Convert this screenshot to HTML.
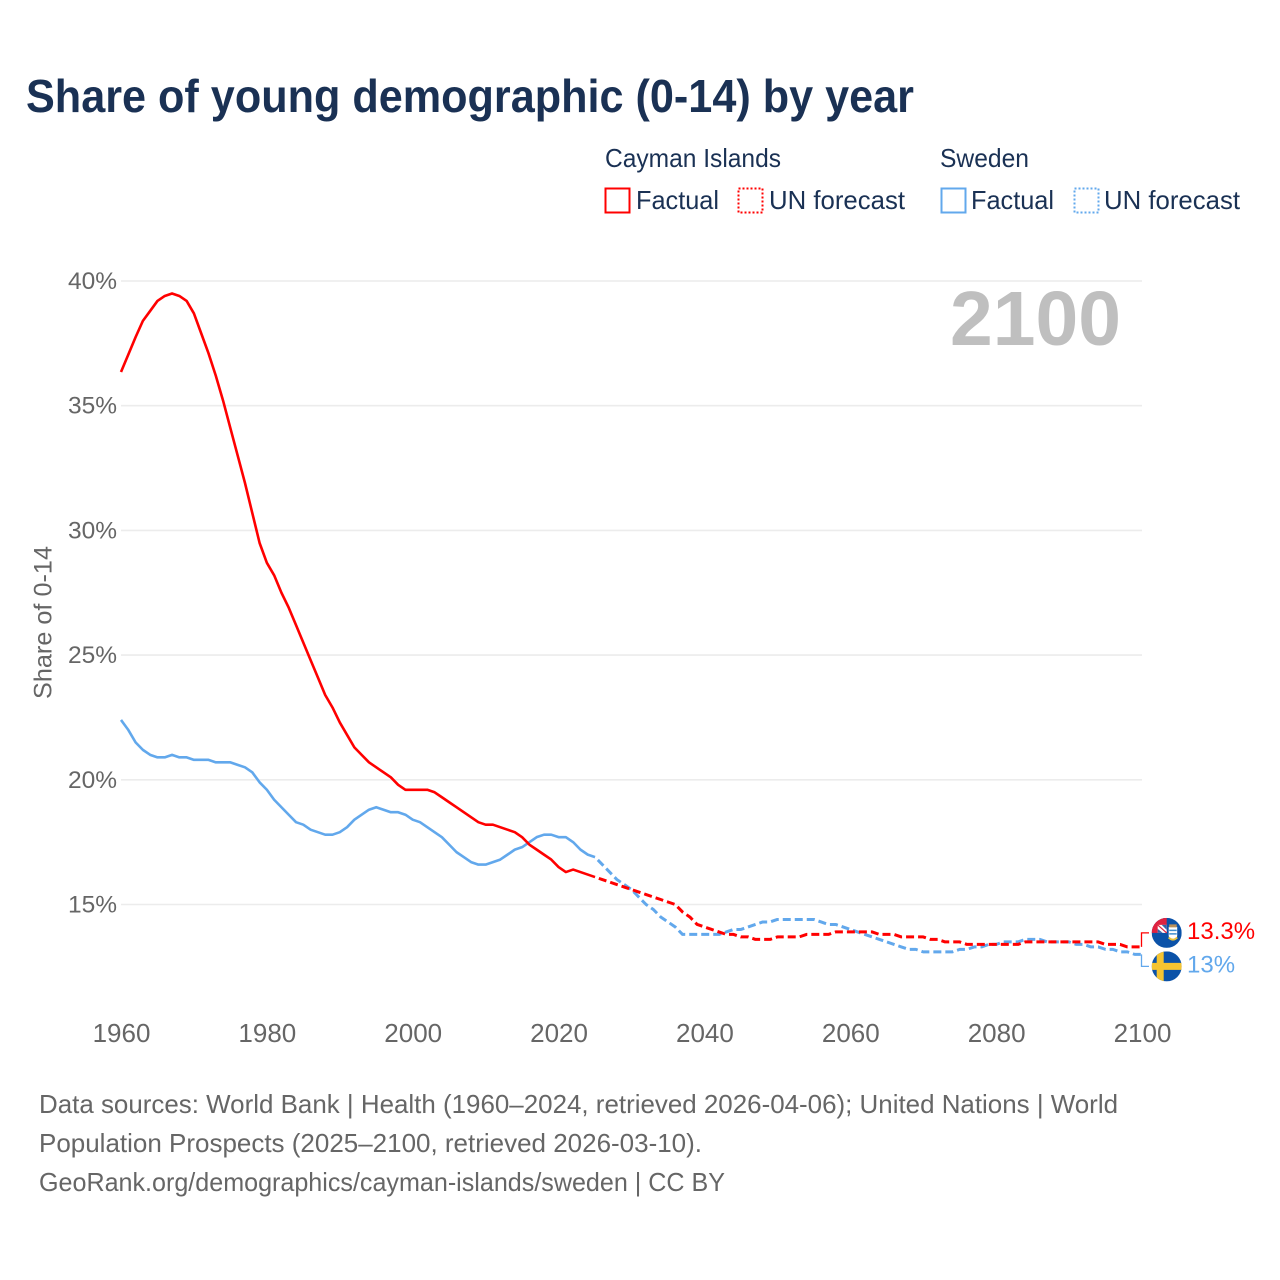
<!DOCTYPE html>
<html lang="en">
<head>
<meta charset="utf-8">
<title>Share of young demographic (0-14) by year</title>
<style>
html,body{margin:0;padding:0;background:#fff;}
svg{display:block;font-family:"Liberation Sans",sans-serif;}
</style>
</head>
<body>
<svg id="chart" xmlns="http://www.w3.org/2000/svg" width="1280" height="1280" viewBox="0 0 1280 1280">
  <rect width="1280" height="1280" fill="#ffffff"/>
  <text x="26" y="112" font-size="46" font-weight="700" fill="#1a3154" textLength="888" lengthAdjust="spacingAndGlyphs">Share of young demographic (0-14) by year</text>

  <g font-size="26" fill="#1a3154">
    <text x="605" y="167" textLength="176" lengthAdjust="spacingAndGlyphs">Cayman Islands</text>
    <rect x="605.5" y="188.5" width="24" height="24" fill="none" stroke="#ff0000" stroke-width="2"/>
    <text x="636" y="209" textLength="83" lengthAdjust="spacingAndGlyphs">Factual</text>
    <rect x="738.5" y="188.5" width="24" height="24" fill="none" stroke="#ff0000" stroke-width="2" stroke-dasharray="2,2"/>
    <text x="769" y="209" textLength="136" lengthAdjust="spacingAndGlyphs">UN forecast</text>
    <text x="940" y="167" textLength="89" lengthAdjust="spacingAndGlyphs">Sweden</text>
    <rect x="941.5" y="188.5" width="24" height="24" fill="none" stroke="#62a8ec" stroke-width="2"/>
    <text x="971" y="209" textLength="83" lengthAdjust="spacingAndGlyphs">Factual</text>
    <rect x="1074.5" y="188.5" width="24" height="24" fill="none" stroke="#62a8ec" stroke-width="2" stroke-dasharray="2,2"/>
    <text x="1104" y="209" textLength="136" lengthAdjust="spacingAndGlyphs">UN forecast</text>
  </g>

  <g id="grid"></g>
  <g id="yticks" font-size="24.5" fill="#666666" text-anchor="end"></g>
  <g id="xticks" font-size="26" fill="#666666" text-anchor="middle"></g>
  <text transform="translate(51.5,699) rotate(-90)" font-size="25" fill="#666666" textLength="153" lengthAdjust="spacingAndGlyphs">Share of 0-14</text>
  <text id="year-watermark" x="950" y="345" font-size="77" font-weight="700" fill="#bfbfbf" textLength="171" lengthAdjust="spacingAndGlyphs">2100</text>
  <g id="series"></g>

  <defs>
    <clipPath id="flag-clip"><circle cx="0" cy="0" r="15"/></clipPath>
  </defs>

  <g id="flag-cayman">
    <g clip-path="url(#flag-clip)">
      <rect x="-15" y="-15" width="30" height="30" fill="#0b52a8"/>
      <rect x="-15" y="-15" width="15" height="15" fill="#e0223f"/>
      <path d="M-9,-8 H0 V0 H-9 Z" fill="#ffffff"/>
      <path d="M-5,-8 H0 V-3 Z" fill="#3a62a8"/>
      <path d="M-9,-4 L-4,0 H-9 Z" fill="#3a62a8"/>
      <path d="M-9,-8 L0,0" stroke="#e0223f" stroke-width="1.2" fill="none"/>
      <path d="M2,-6 H10.5 V3 Q10.5,6 6.2,7 Q2,6 2,3 Z" fill="#ffffff"/>
      <path d="M2.5,-2.5 H10 M2.5,1 H10" stroke="#3f8fcf" stroke-width="1.5" fill="none"/>
      <path d="M2.5,-8.5 H10 V-5.5 H2.5 Z" fill="#b9905a"/>
      <path d="M2,4.5 Q6.2,9 10.5,4.5" stroke="#e6c341" stroke-width="2" fill="none"/>
    </g>
  </g>
  <g id="flag-sweden">
    <g clip-path="url(#flag-clip)">
      <rect x="-15" y="-15" width="30" height="30" fill="#0b52a8"/>
      <rect x="-10" y="-15" width="7" height="30" fill="#f5c431"/>
      <rect x="-15" y="-3.5" width="30" height="7" fill="#f5c431"/>
    </g>
  </g>

  <g font-size="26" fill="#666666">
    <text x="39" y="1113" textLength="1079" lengthAdjust="spacingAndGlyphs">Data sources: World Bank | Health (1960–2024, retrieved 2026-04-06); United Nations | World</text>
    <text x="39" y="1152" textLength="663" lengthAdjust="spacingAndGlyphs">Population Prospects (2025–2100, retrieved 2026-03-10).</text>
    <text x="39" y="1191" textLength="686" lengthAdjust="spacingAndGlyphs">GeoRank.org/demographics/cayman-islands/sweden | CC BY</text>
  </g>
</svg>

<script>
const firstYear = 1960;
const lastFactualYear = 2025;
const caymanValues = [
  36.35,37.05,37.75,38.4,38.8,39.2,39.4,39.5,39.4,39.2,
  38.7,37.9,37.1,36.2,35.2,34.1,33.0,31.9,30.7,29.5,
  28.7,28.2,27.5,26.9,26.2,25.5,24.8,24.1,23.4,22.9,
  22.3,21.8,21.3,21.0,20.7,20.5,20.3,20.1,19.8,19.6,
  19.6,19.6,19.6,19.5,19.3,19.1,18.9,18.7,18.5,18.3,
  18.2,18.2,18.1,18.0,17.9,17.7,17.4,17.2,17.0,16.8,
  16.5,16.3,16.4,16.3,16.2,16.1,16.0,15.9,15.8,15.7,
  15.6,15.5,15.4,15.3,15.2,15.1,15.0,14.7,14.5,14.2,
  14.1,14.0,13.9,13.8,13.8,13.7,13.7,13.6,13.6,13.6,
  13.7,13.7,13.7,13.7,13.8,13.8,13.8,13.8,13.9,13.9,
  13.9,13.9,13.9,13.9,13.8,13.8,13.8,13.7,13.7,13.7,
  13.7,13.6,13.6,13.5,13.5,13.5,13.4,13.4,13.4,13.4,
  13.4,13.4,13.4,13.4,13.5,13.5,13.5,13.5,13.5,13.5,
  13.5,13.5,13.5,13.5,13.5,13.4,13.4,13.4,13.3,13.3,
  13.3
];
const swedenValues = [
  22.4,22.0,21.5,21.2,21.0,20.9,20.9,21.0,20.9,20.9,
  20.8,20.8,20.8,20.7,20.7,20.7,20.6,20.5,20.3,19.9,
  19.6,19.2,18.9,18.6,18.3,18.2,18.0,17.9,17.8,17.8,
  17.9,18.1,18.4,18.6,18.8,18.9,18.8,18.7,18.7,18.6,
  18.4,18.3,18.1,17.9,17.7,17.4,17.1,16.9,16.7,16.6,
  16.6,16.7,16.8,17.0,17.2,17.3,17.5,17.7,17.8,17.8,
  17.7,17.7,17.5,17.2,17.0,16.9,16.6,16.3,16.0,15.8,
  15.6,15.3,15.0,14.8,14.5,14.3,14.1,13.8,13.8,13.8,
  13.8,13.8,13.8,13.9,14.0,14.0,14.1,14.2,14.3,14.3,
  14.4,14.4,14.4,14.4,14.4,14.4,14.3,14.2,14.2,14.1,
  14.0,13.9,13.8,13.7,13.6,13.5,13.4,13.3,13.2,13.2,
  13.1,13.1,13.1,13.1,13.1,13.2,13.2,13.3,13.3,13.4,
  13.4,13.5,13.5,13.5,13.6,13.6,13.6,13.5,13.5,13.5,
  13.5,13.4,13.4,13.3,13.3,13.2,13.2,13.1,13.1,13.0,
  13.0
];
const yTickValues = [15,20,25,30,35,40];
const xTickValues = [1960,1980,2000,2020,2040,2060,2080,2100];

const SVG_NS = 'http://www.w3.org/2000/svg';
const COLOR_CAYMAN = '#ff0000';
const COLOR_SWEDEN = '#62a8ec';
const xScale = year => 121 + (year - 1960) * (1142 - 121) / 140;
const yScale = value => 281 + (40 - value) * (904.5 - 281) / 25;
const yearOf = index => firstYear + index;

function make(tag, attrs, parent) {
  const el = document.createElementNS(SVG_NS, tag);
  Object.keys(attrs).forEach(k => el.setAttribute(k, attrs[k]));
  parent.appendChild(el);
  return el;
}
function pathFrom(values, fromYear, toYear) {
  const parts = [];
  values.forEach((v, i) => {
    const yr = yearOf(i);
    if (yr >= fromYear && yr <= toYear) {
      parts.push((parts.length ? 'L' : 'M') + xScale(yr).toFixed(2) + ',' + yScale(v).toFixed(2));
    }
  });
  return parts.join(' ');
}

const grid = document.getElementById('grid');
const yTicks = document.getElementById('yticks');
yTickValues.forEach(v => {
  const line = make('line', {x1: 121, x2: 1142, y1: yScale(v), y2: yScale(v), stroke: '#ececec', 'stroke-width': 1.6}, grid);
  
  
  const label = make('text', {x: 117, y: yScale(v) + 8}, yTicks);
  label.textContent = v + '%';
  
  
});

const xTicks = document.getElementById('xticks');
xTickValues.forEach(yr => {
  const label = make('text', {x: xScale(yr) + 0.5, y: 1042}, xTicks);
  label.textContent = yr;
  
  
});

const series = document.getElementById('series');
function drawSeries(values, color, key) {
  const forecast = make('path', {d: pathFrom(values, lastFactualYear, 9999), fill: 'none', stroke: color, 'stroke-width': 3, 'stroke-linejoin': 'round', 'stroke-dasharray': '8,4', 'stroke-dashoffset': 8}, series);
  
  
  const factual = make('path', {d: pathFrom(values, 0, lastFactualYear), fill: 'none', stroke: color, 'stroke-width': 2.6, 'stroke-linejoin': 'round'}, series);
  
  
}
drawSeries(swedenValues, COLOR_SWEDEN, 'sweden');
drawSeries(caymanValues, COLOR_CAYMAN, 'cayman');

function drawEnd(values, color, key, offset, flagId) {
  const lastIndex = values.length - 1;
  const lastValue = values[lastIndex];
  const x0 = xScale(yearOf(lastIndex));
  const y0 = yScale(lastValue);
  const y1 = y0 + offset;
  const connector = make('path', {d: 'M' + (x0 - 0.5) + ',' + y0 + ' V' + y1 + ' H1149', fill: 'none', stroke: color, 'stroke-width': 1.3}, series);
  
  
  document.getElementById(flagId).setAttribute('transform', 'translate(1166.7,' + y1 + ')');
  const label = make('text', {x: 1187, y: y1 + 6, 'font-size': 24, fill: color}, series);
  label.textContent = lastValue + '%';
  
  
}
drawEnd(caymanValues, COLOR_CAYMAN, 'cayman', -14, 'flag-cayman');
drawEnd(swedenValues, COLOR_SWEDEN, 'sweden', 12, 'flag-sweden');
</script>
</body>
</html>
